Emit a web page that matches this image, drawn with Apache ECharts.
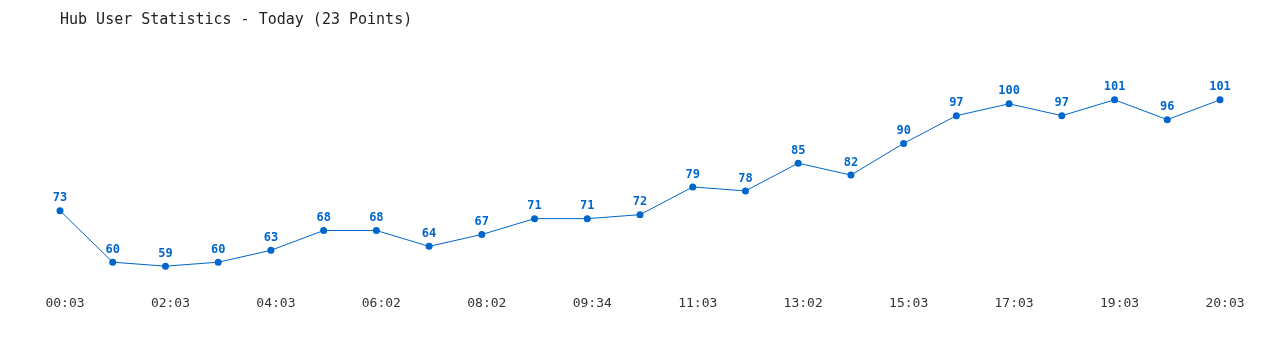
<!DOCTYPE html>
<html><head><meta charset="utf-8">
<script src="https://cdn.jsdelivr.net/npm/echarts@6/dist/echarts.min.js"></script>
<style>html,body{margin:0;padding:0;background:#fff}#c{width:1280px;height:350px}</style>
</head><body><div id="c"></div>
<script>
const categories = ["00:03","01:03","02:03","03:03","04:03","05:03","06:02","07:02","08:02","09:02","09:34","10:03","11:03","12:03","13:02","14:03","15:03","16:03","17:03","18:03","19:03","19:34","20:03"];
const users = [73,60,59,60,63,68,68,64,67,71,71,72,79,78,85,82,90,97,100,97,101,96,101];
const titleText = "Hub User Statistics - Today (23 Points)";
const font = "'DejaVu Sans Mono', 'Liberation Mono', monospace";
const chart = echarts.init(document.getElementById('c'), null, {renderer:'canvas'});
chart.setOption({
  animation:false,
  backgroundColor:'#fff',
  title:{text:titleText,left:55,top:8,textStyle:{fontFamily:font,fontSize:15,fontWeight:'normal',color:'#222'}},
  grid:{left:60,right:60,top:84,bottom:68},
  xAxis:{type:'category',data:categories,boundaryGap:false,
    axisLine:{show:false},axisTick:{show:false},splitLine:{show:false},
    axisLabel:{interval:1,margin:15,padding:[0,0,0,10],fontFamily:font,fontSize:13,color:'#333'}},
  yAxis:{type:'value',min:55,max:105,show:false,splitLine:{show:false}},
  series:[{type:'line',data:users,symbol:'circle',symbolSize:7,
    lineStyle:{color:'#0066cc',width:1},itemStyle:{color:'#0066cc'},
    label:{show:true,position:'top',distance:3,fontFamily:font,fontSize:12,fontWeight:'bold',color:'#0066cc'}}]
});
</script></body></html>
